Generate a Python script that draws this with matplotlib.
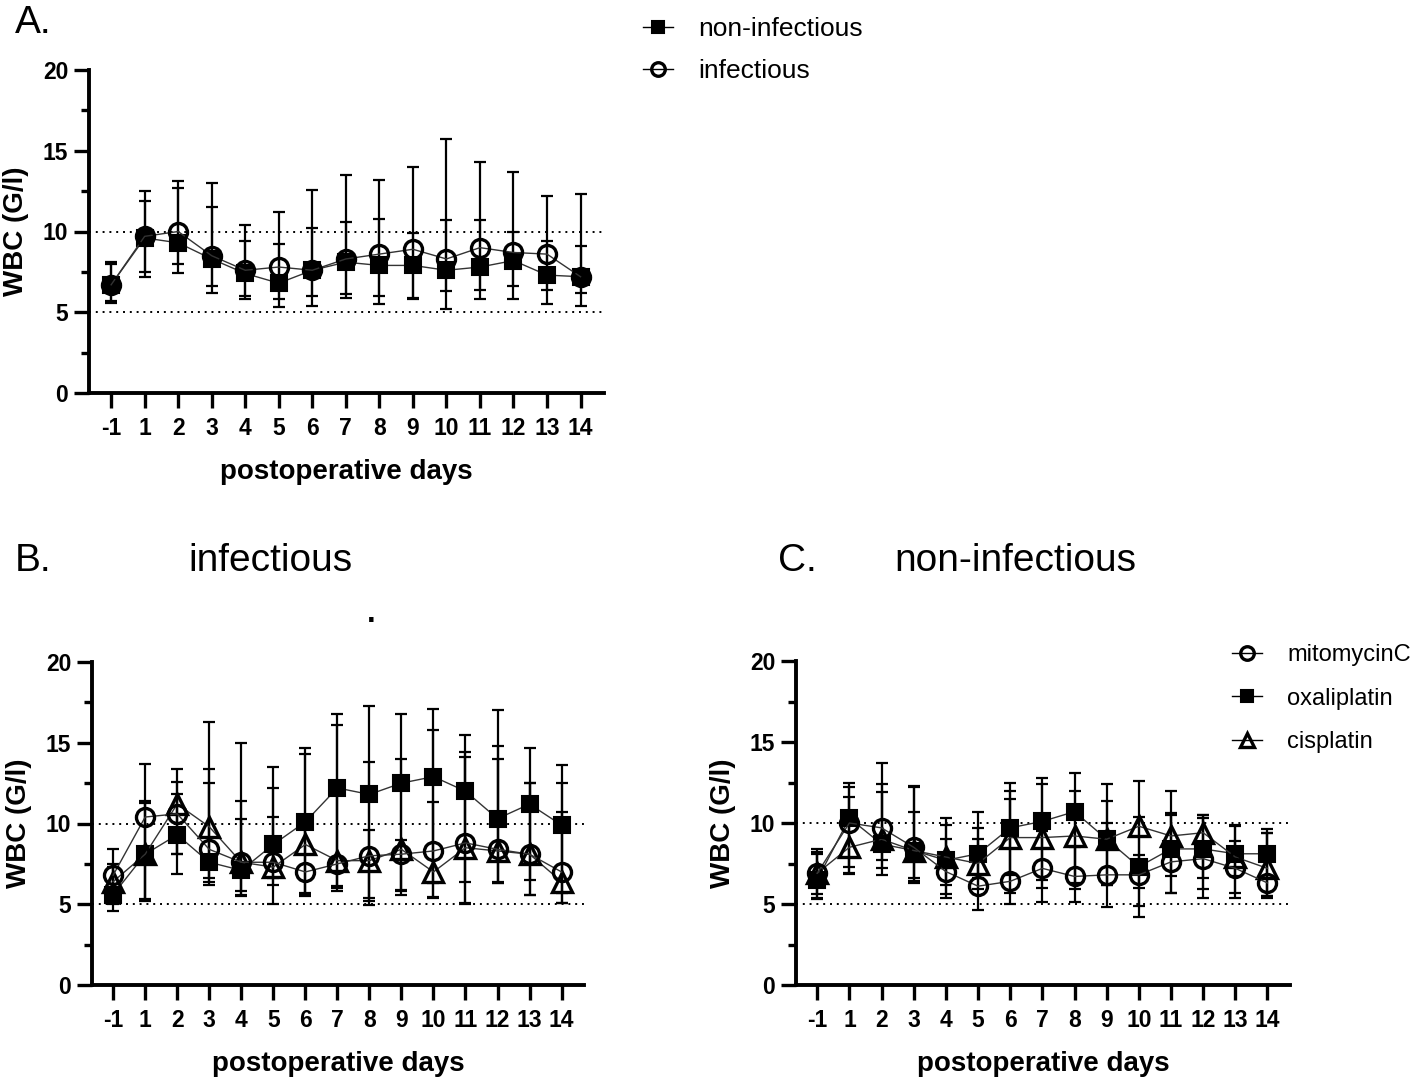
import numpy as np
import matplotlib
matplotlib.use("Agg")
import matplotlib.pyplot as plt
from matplotlib.lines import Line2D

plt.rcParams['font.family'] = ['Liberation Sans', 'DejaVu Sans']

days = ['-1', '1', '2', '3', '4', '5', '6', '7', '8', '9', '10', '11', '12', '13', '14']

# panel A: all patients, non-infectious vs infectious (mean, upper / lower bar ends)
noninf_mean = [6.7, 9.6, 9.3, 8.3, 7.4, 6.8, 7.6, 8.1, 7.9, 7.9, 7.6, 7.8, 8.2, 7.3, 7.2]
noninf_hi = [8.0, 11.9, 12.7, 11.5, 9.4, 9.2, 10.2, 10.6, 10.8, 9.9, 10.7, 10.7, 10.0, 9.4, 9.1]
noninf_lo = [5.6, 7.2, 7.4, 6.2, 5.8, 5.3, 5.4, 5.9, 5.5, 5.8, 5.2, 5.8, 5.8, 5.5, 5.4]
inf_mean = [6.7, 9.7, 10.0, 8.5, 7.6, 7.8, 7.6, 8.3, 8.6, 8.9, 8.3, 9.0, 8.7, 8.6, 7.2]
inf_hi = [8.1, 12.5, 13.1, 13.0, 10.4, 11.2, 12.6, 13.5, 13.2, 14.0, 15.7, 14.3, 13.7, 12.2, 12.3]
inf_lo = [5.7, 7.5, 8.0, 6.6, 6.0, 5.8, 6.0, 6.1, 6.0, 5.9, 6.3, 6.4, 6.6, 6.4, 6.2]

# panel B: infectious
mito_B = [6.8, 10.4, 10.6, 8.4, 7.6, 7.6, 7.0, 7.5, 8.0, 8.1, 8.3, 8.8, 8.4, 8.1, 7.0]
mito_B_hi = [8.4, 11.4, 12.6, 12.5, 10.3, 10.4, 10.4, 12.0, 9.6, 9.0, 11.35, 14.4, 14.8, 12.5, 10.7]
mito_B_lo = [5.3, 5.3, 8.1, 6.4, 5.8, 6.2, 5.6, 6.0, 5.2, 5.9, 6.3, 6.4, 6.3, 6.5, 5.7]
oxali_B = [5.6, 8.1, 9.3, 7.6, 7.1, 8.7, 10.1, 12.2, 11.8, 12.5, 12.9, 12.0, 10.3, 11.2, 9.9]
oxali_B_hi = [7.3, 13.7, 11.8, 13.4, 11.4, 13.5, 14.7, 16.8, 17.3, 16.8, 17.1, 15.5, 17.0, 14.7, 13.6]
oxali_B_lo = [4.6, 5.2, 6.85, 6.2, 5.5, 6.6, 5.5, 5.8, 5.4, 5.6, 5.4, 5.0, 6.3, 5.55, 5.1]
cis_B = [6.4, 8.1, 11.2, 9.8, 7.6, 7.3, 8.7, 7.7, 7.7, 8.4, 7.0, 8.5, 8.3, 8.1, 6.4]
cis_B_hi = [7.5, 11.25, 13.4, 16.3, 15.0, 12.2, 14.3, 16.1, 13.8, 14.0, 15.8, 14.1, 14.0, 12.5, 12.5]
cis_B_lo = [5.0, 5.25, 8.1, 6.6, 5.6, 5.0, 5.7, 6.1, 4.95, 5.8, 5.45, 5.1, 6.4, 5.6, 5.1]

# panel C: non-infectious
mito_C = [6.9, 10.0, 9.7, 8.5, 7.0, 6.1, 6.4, 7.2, 6.7, 6.8, 6.8, 7.6, 7.8, 7.2, 6.3]
mito_C_hi = [8.1, 11.6, 12.4, 10.7, 9.0, 9.7, 11.5, 9.5, 8.5, 11.35, 8.0, 10.5, 10.3, 8.9, 9.4]
mito_C_lo = [5.4, 6.9, 7.2, 6.4, 5.4, 4.6, 5.0, 5.1, 5.1, 4.8, 4.2, 5.7, 5.4, 5.4, 5.4]
oxali_C = [6.5, 10.3, 8.7, 8.3, 7.7, 8.1, 9.7, 10.1, 10.7, 9.0, 7.3, 8.4, 8.4, 8.1, 8.1]
oxali_C_hi = [8.4, 12.5, 11.9, 12.3, 10.3, 10.7, 12.5, 12.8, 13.1, 12.4, 10.4, 12.0, 10.5, 9.9, 9.6]
oxali_C_lo = [5.3, 7.3, 6.8, 6.3, 6.2, 5.9, 6.8, 6.5, 5.9, 6.2, 4.9, 6.7, 6.6, 6.7, 5.5]
cis_C = [6.9, 8.5, 9.0, 8.3, 7.9, 7.5, 9.1, 9.1, 9.2, 9.0, 9.8, 9.2, 9.4, 7.9, 7.2]
cis_C_hi = [8.2, 12.2, 13.7, 12.2, 9.9, 9.0, 12.0, 12.4, 12.0, 10.0, 12.6, 10.6, 10.5, 9.8, 9.4]
cis_C_lo = [5.6, 6.85, 7.7, 6.6, 5.6, 6.6, 5.7, 6.0, 6.3, 6.2, 6.0, 5.7, 5.9, 5.7, 5.5]

W, H = 1416, 1080
fig = plt.figure(figsize=(W / 100, H / 100), dpi=100)


def px_axes(x0, x1, ytop, ybot):
    return fig.add_axes([x0 / W, 1 - ybot / H, (x1 - x0) / W, (ybot - ytop) / H])


MARK = {
    'square': dict(marker='s', ms=12, mfc='black', mec='black', mew=1.5),
    'circle': dict(marker='o', ms=13, mfc='none', mec='black', mew=2.4),
    'triangle': dict(marker='^', ms=14, mfc='none', mec='black', mew=2.4),
}


def series(ax, mean, hi, lo, kind):
    x = np.arange(len(mean))
    mean = np.array(mean)
    err = [mean - np.array(lo), np.array(hi) - mean]
    ax.errorbar(x, mean, yerr=err, fmt='none', ecolor='black', elinewidth=1.6,
                capsize=4.5, capthick=1.6, zorder=2)
    ax.plot(x, mean, color='#333333', lw=1.0, zorder=3, **MARK[kind])


def style(ax):
    ax.set_ylim(0, 20)
    ax.set_xlim(-0.66, 14.7)
    ax.set_xticks(range(len(days)))
    ax.set_xticklabels(days)
    ax.set_yticks([0, 5, 10, 15, 20])
    ax.set_yticks([2.5, 7.5, 12.5, 17.5], minor=True)
    for s in ['top', 'right']:
        ax.spines[s].set_visible(False)
    for s in ['left', 'bottom']:
        ax.spines[s].set_linewidth(2.8)
    ax.tick_params(axis='both', which='major', length=11, width=2.4, labelsize=16.5, pad=4)
    ax.tick_params(axis='y', which='minor', length=6, width=2.4)
    ax.tick_params(axis='x', pad=6)
    for lab in ax.get_xticklabels() + ax.get_yticklabels():
        lab.set_fontweight('bold')
    for yv in (5, 10):
        ax.axhline(yv, color='black', lw=1.4, ls=(0, (1, 2.5)), zorder=1)
    ax.set_xlabel('postoperative days', fontsize=20, fontweight='bold', labelpad=14)
    ax.set_ylabel('WBC (G/l)', fontsize=20, fontweight='bold', labelpad=10)


# Panel A
axA = px_axes(89, 604, 70, 393)
series(axA, noninf_mean, noninf_hi, noninf_lo, 'square')
series(axA, inf_mean, inf_hi, inf_lo, 'circle')
style(axA)

# Panel B
axB = px_axes(92, 584, 662, 985)
series(axB, oxali_B, oxali_B_hi, oxali_B_lo, 'square')
series(axB, cis_B, cis_B_hi, cis_B_lo, 'triangle')
series(axB, mito_B, mito_B_hi, mito_B_lo, 'circle')
style(axB)

# Panel C
axC = px_axes(796, 1290, 661, 985)
series(axC, oxali_C, oxali_C_hi, oxali_C_lo, 'square')
series(axC, cis_C, cis_C_hi, cis_C_lo, 'triangle')
series(axC, mito_C, mito_C_hi, mito_C_lo, 'circle')
style(axC)

# panel letters and titles
fig.text(15 / W, 1 - 33 / H, 'A.', fontsize=28, va='baseline')
fig.text(15 / W, 1 - 571 / H, 'B.', fontsize=28, va='baseline')
fig.text(778 / W, 1 - 571 / H, 'C.', fontsize=28, va='baseline')
fig.text(270 / W, 1 - 571 / H, 'infectious', fontsize=28, va='baseline', ha='center')
fig.text(1015 / W, 1 - 571 / H, 'non-infectious', fontsize=28, va='baseline', ha='center')
fig.text(371 / W, 1 - 622 / H, '.', fontsize=22, fontweight='bold', va='baseline', ha='center')


def handle(kind):
    return Line2D([], [], color='black', lw=1.0, **dict(MARK[kind], ms=MARK[kind]['ms'] * 0.75))


legA = fig.legend([handle('square'), handle('circle')], ['non-infectious', 'infectious'],
                  loc='upper left', bbox_to_anchor=(643 / W, 1 - 17 / H), frameon=False,
                  fontsize=19, handlelength=1.15, handletextpad=0.95, labelspacing=0.68,
                  borderpad=0, borderaxespad=0)
legC = fig.legend([handle('circle'), handle('square'), handle('triangle')],
                  ['mitomycinC', 'oxaliplatin', 'cisplatin'],
                  loc='upper left', bbox_to_anchor=(1232 / W, 1 - 644 / H), frameon=False,
                  fontsize=17, handlelength=1.27, handletextpad=1.06, labelspacing=0.92,
                  borderpad=0, borderaxespad=0)

fig.savefig('out.png', dpi=100)
